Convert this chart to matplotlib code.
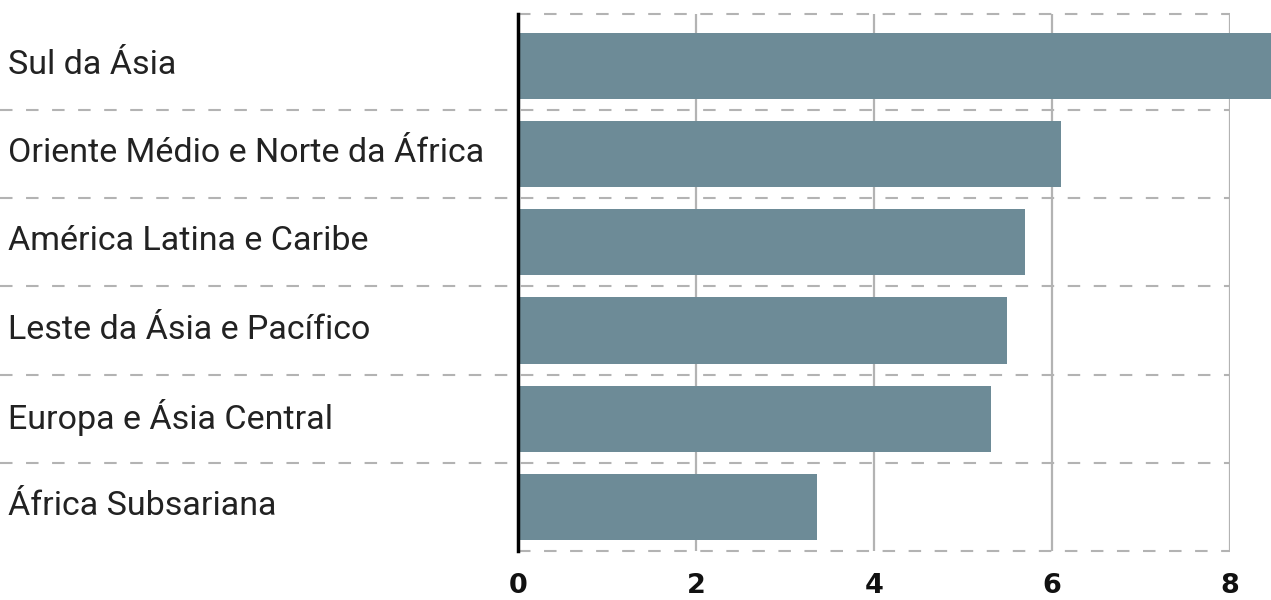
import matplotlib.pyplot as plt
import matplotlib.transforms as mtransforms

# Regions and values, top to bottom
regions = [
    "Sul da Ásia",
    "Oriente Médio e Norte da África",
    "América Latina e Caribe",
    "Leste da Ásia e Pacífico",
    "Europa e Ásia Central",
    "África Subsariana",
]
values = [8.5, 6.1, 5.7, 5.49, 5.31, 3.36]
ticks = [0, 2, 4, 6, 8]

bar_color = "#6d8b97"
grid_color = "#b3b3b3"

fig = plt.figure(figsize=(12.71, 6.0), dpi=100)
ax = fig.add_axes([0.4076, 0.0817, 0.5601, 0.895])

y = list(range(len(regions)))
bars = ax.barh(y, values, height=0.75, color=bar_color, zorder=2)
# the first bar runs past the last gridline, out to the edge of the figure
for b in bars:
    b.set_clip_on(False)

ax.set_xlim(0, 8)
ax.set_ylim(len(regions) - 0.5, -0.59)

# vertical gridlines
ax.set_xticks(ticks)
ax.grid(axis="x", color=grid_color, linewidth=1.6, zorder=1)
ax.grid(axis="y", visible=False)
ax.set_yticks([])

for side in ["top", "right", "bottom"]:
    ax.spines[side].set_visible(False)
ax.spines["left"].set_color("black")
ax.spines["left"].set_linewidth(2.5)
ax.spines["left"].set_zorder(3)

ax.tick_params(axis="x", length=0, pad=16)
for lbl in ax.get_xticklabels():
    lbl.set_fontsize(19.5)
    lbl.set_fontweight("bold")
    lbl.set_color("#111111")

dash = dict(color=grid_color, linewidth=1.5, linestyle=(0, (6, 6.5)))

# dashed separators between rows, running under the labels too
trans = mtransforms.blended_transform_factory(fig.transFigure, ax.transData)
for i in range(len(regions) - 1):
    ax.plot([0.0, 0.9677], [i + 0.5, i + 0.5], transform=trans, clip_on=False, zorder=1, **dash)

# dashed top and bottom borders, only over the plot area
ax.plot([0, 8], [-0.59, -0.59], clip_on=False, zorder=1, **dash)
ax.plot([0, 8], [len(regions) - 0.5, len(regions) - 0.5], clip_on=False, zorder=1, **dash)

# category labels, left aligned at the figure edge
for i, name in enumerate(regions):
    ax.text(0.006, i - 0.01, name, transform=trans, ha="left", va="center",
            fontsize=24.5, color="#222222",
            family=["Roboto", "DejaVu Sans"])

fig.savefig("out.png", dpi=100, facecolor="white")
